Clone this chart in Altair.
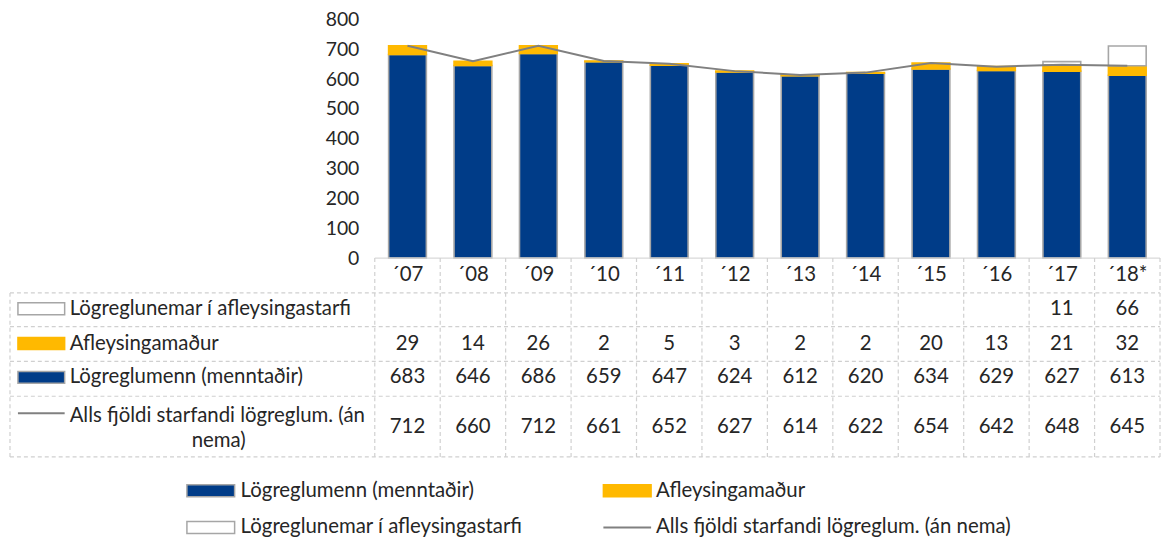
import altair as alt
import pandas as pd

# ---------------- data ----------------
years = ["\u00b407", "\u00b408", "\u00b409", "\u00b410", "\u00b411", "\u00b412",
         "\u00b413", "\u00b414", "\u00b415", "\u00b416", "\u00b417", "\u00b418*"]
nemar = [None, None, None, None, None, None, None, None, None, None, 11, 66]
afleysing = [29, 14, 26, 2, 5, 3, 2, 2, 20, 13, 21, 32]
menntadir = [683, 646, 686, 659, 647, 624, 612, 620, 634, 629, 627, 613]
alls = [712, 660, 712, 661, 652, 627, 614, 622, 654, 642, 648, 645]
y_ticks = [0, 100, 200, 300, 400, 500, 600, 700, 800]

S_NEM = "Lögreglunemar í afleysingastarfi"
S_AFL = "Afleysingamaður"
S_MEN = "Lögreglumenn (menntaðir)"
S_ALL = "Alls fjöldi starfandi lögreglum. (án nema)"

# ---------------- style / layout ----------------
BLUE = "#003C88"
YELLOW = "#FFB900"
EDGE = "#A6A6A6"
LINE = "#808080"
GRID = "#D0D0D0"
TXT = "#262626"
FONT = "Lato"
FS = 20.5

W, H = 1160, 530
X0, X1 = 369, 1159          # year columns
STEP = (X1 - X0) / len(years)
Y_ZERO, Y_TOP = 250, 10      # bar area

# row geometry of the table (pixel layout)
ROW_LINES = [285, 319, 354, 389, 450]
HDR_Y = 267
ROW_Y = {"nem": 301, "afl": 336, "men": 370, "all": 420}

# ---------------- tables ----------------
bars = []
for i, yr in enumerate(years):
    bars.append({"year": yr, "series": S_MEN, "value": menntadir[i], "ord": 0})
    bars.append({"year": yr, "series": S_AFL, "value": afleysing[i], "ord": 1})
    if nemar[i] is not None:
        bars.append({"year": yr, "series": S_NEM, "value": nemar[i], "ord": 2})
bars_df = pd.DataFrame(bars)
line_df = pd.DataFrame({"year": years, "total": alls})
years_df = pd.DataFrame({"year": years})
one = pd.DataFrame({"k": [0]})

xscale = alt.Scale(domain=years, range=[X0, X1], paddingInner=0.423, paddingOuter=0.2115)
X = alt.X("year:N", scale=xscale, axis=None)
yscale = alt.Scale(domain=[0, 800], range=[Y_ZERO, Y_TOP], nice=False, zero=True)

layers = []

# bars
layers.append(
    alt.Chart(bars_df).mark_bar(strokeWidth=1.6).encode(
        x=X,
        y=alt.Y("value:Q", stack="zero", scale=yscale, title=None,
                axis=alt.Axis(values=y_ticks, offset=-X0, labelPadding=16, ticks=False,
                              domain=False, grid=False, labelFont=FONT, labelFontSize=19.5,
                              labelColor=TXT)),
        fill=alt.Fill("series:N", legend=None,
                      scale=alt.Scale(domain=[S_MEN, S_AFL, S_NEM], range=[BLUE, YELLOW, "#FFFFFF"])),
        stroke=alt.Stroke("series:N", legend=None,
                          scale=alt.Scale(domain=[S_MEN, S_AFL, S_NEM], range=[EDGE, YELLOW, EDGE])),
        order=alt.Order("ord:Q"),
    )
)

# total line
layers.append(
    alt.Chart(line_df).mark_line(color=LINE, strokeWidth=2).encode(
        x=X, y=alt.Y("total:Q", scale=yscale, title=None)
    )
)

# ---- table grid ----
dash = [4, 3]
layers.append(alt.Chart(one).mark_rule(color="#D9D9D9", strokeWidth=1.3).encode(
    x=alt.value(X0), x2=alt.value(X1), y=alt.value(Y_ZERO)))
for yy in ROW_LINES:
    layers.append(alt.Chart(one).mark_rule(color=GRID, strokeDash=dash, strokeWidth=1.2).encode(
        x=alt.value(2), x2=alt.value(X1), y=alt.value(yy)))
layers.append(alt.Chart(years_df).mark_rule(color=GRID, strokeDash=dash, strokeWidth=1.2,
                                           xOffset=-STEP / 2).encode(
    x=X, y=alt.value(Y_ZERO), y2=alt.value(ROW_LINES[-1])))
layers.append(alt.Chart(years_df.tail(1)).mark_rule(color=GRID, strokeDash=dash, strokeWidth=1.2,
                                                   xOffset=STEP / 2).encode(
    x=X, y=alt.value(Y_ZERO), y2=alt.value(ROW_LINES[-1])))
layers.append(alt.Chart(one).mark_rule(color=GRID, strokeDash=dash, strokeWidth=1.2).encode(
    x=alt.value(2), y=alt.value(ROW_LINES[0]), y2=alt.value(ROW_LINES[-1])))

# ---- header labels ----
txt = dict(font=FONT, fontSize=FS, color=TXT, baseline="middle")
layers.append(alt.Chart(years_df).mark_text(**txt).encode(
    x=X, y=alt.value(HDR_Y), text="year:N"))

# ---- value cells ----
row_values = [("nem", nemar), ("afl", afleysing), ("men", menntadir), ("all", alls)]
for key, vals in row_values:
    df = pd.DataFrame({"year": years, "v": vals}).dropna()
    df["v"] = df["v"].astype(int)
    layers.append(alt.Chart(df).mark_text(**txt).encode(
        x=X, y=alt.value(ROW_Y[key]), text="v:Q"))

# ---- row labels with swatches ----
SW_X0, SW_X1, LBL_X = 10, 57, 62


def swatch_rect(x0, x1, cy, fill, stroke):
    return alt.Chart(one).mark_rect(fill=fill, stroke=stroke, strokeWidth=1.5).encode(
        x=alt.value(x0), x2=alt.value(x1), y=alt.value(cy - 6), y2=alt.value(cy + 6))


def swatch_line(x0, x1, cy):
    return alt.Chart(one).mark_rule(color=LINE, strokeWidth=2).encode(
        x=alt.value(x0), x2=alt.value(x1), y=alt.value(cy))


def label(x, cy, s, align="left"):
    return alt.Chart(pd.DataFrame({"t": [s]})).mark_text(align=align, **txt).encode(
        x=alt.value(x), y=alt.value(cy), text="t:N")


layers += [
    swatch_rect(SW_X0, SW_X1, ROW_Y["nem"], "#FFFFFF", EDGE),
    label(LBL_X, ROW_Y["nem"], S_NEM),
    swatch_rect(SW_X0, SW_X1, ROW_Y["afl"], YELLOW, YELLOW),
    label(LBL_X, ROW_Y["afl"], S_AFL),
    swatch_rect(SW_X0, SW_X1, ROW_Y["men"], BLUE, EDGE),
    label(LBL_X, ROW_Y["men"], S_MEN),
    swatch_line(SW_X0, SW_X1, 406),
    label(LBL_X, 409, "Alls fjöldi starfandi lögreglum. (án"),
    label(212, 434, "nema)", align="center"),
]

# ---- bottom legend ----
L1, L2 = 484, 521
LA, LB = 180, 599
layers += [
    swatch_rect(LA, LA + 48, L1, BLUE, EDGE), label(LA + 54, L1, S_MEN),
    swatch_rect(LB, LB + 48, L1, YELLOW, YELLOW), label(LB + 53, L1, S_AFL),
    swatch_rect(LA, LA + 48, L2, "#FFFFFF", EDGE), label(LA + 54, L2, S_NEM),
    swatch_line(LB, LB + 48, L2), label(LB + 53, L2, S_ALL),
]

chart = alt.layer(*layers).properties(
    width=W, height=H, autosize=alt.AutoSizeParams(type="none"), padding=0
).configure_view(stroke=None)

chart.save("out.html", embed_options={"renderer": "svg", "actions": False})
